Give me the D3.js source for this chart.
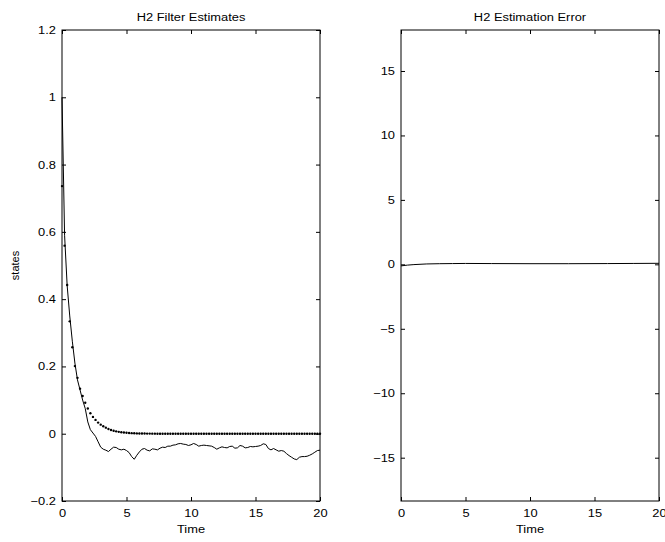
<!DOCTYPE html>
<html>
<head>
<meta charset="utf-8">
<script src="https://cdn.jsdelivr.net/npm/d3@7"></script>
<style>
body { margin: 0; background: #fff; }
text { font-family: "Liberation Sans", Arial, Helvetica, sans-serif; }
</style>
</head>
<body>
<div id="vis"></div>
<script>
// sample step of both state series (t = 0, 0.2, ... 20)
var dt = 0.2;

// solid line: filter estimate
var estimate = [
  1.000, 0.590, 0.440, 0.350, 0.275, 0.210, 0.160, 0.130, 0.100, 0.075,
  0.035, 0.012, 0.002, -0.008, -0.024, -0.040, -0.046, -0.049, -0.053, -0.046,
  -0.040, -0.041, -0.046, -0.048, -0.046, -0.050, -0.056, -0.068, -0.076, -0.064,
  -0.054, -0.046, -0.044, -0.049, -0.051, -0.045, -0.046, -0.048, -0.043, -0.040,
  -0.041, -0.037, -0.037, -0.034, -0.033, -0.030, -0.029, -0.031, -0.032, -0.035,
  -0.033, -0.029, -0.032, -0.037, -0.035, -0.034, -0.035, -0.036, -0.037, -0.041,
  -0.046, -0.042, -0.039, -0.041, -0.042, -0.038, -0.037, -0.043, -0.042, -0.035,
  -0.037, -0.042, -0.041, -0.038, -0.039, -0.038, -0.037, -0.035, -0.030, -0.032,
  -0.044, -0.048, -0.044, -0.048, -0.052, -0.050, -0.052, -0.059, -0.065, -0.070,
  -0.075, -0.077, -0.070, -0.068, -0.068, -0.067, -0.064, -0.060, -0.055, -0.050,
  -0.049
];

// dotted: true state
var state = [
  0.736, 0.559, 0.442, 0.334, 0.257, 0.201, 0.166, 0.134, 0.112, 0.092,
  0.075, 0.061, 0.050, 0.041, 0.033, 0.027, 0.022, 0.018, 0.014, 0.011,
  0.009, 0.007, 0.0055, 0.0045, 0.0035, 0.003, 0.002, 0.0017, 0.0013, 0.001,
  0.0008, 0.0006, 0.0005, 0.0004, 0.0003, 0.0002, 0.0002, 0.0001, 0.0001, 0,
  0, 0, 0, 0, 0, 0, 0, 0, 0, 0,
  0, 0, 0, 0, 0, 0, 0, 0, 0, 0,
  0, 0, 0, 0, 0, 0, 0, 0, 0, 0,
  0, 0, 0, 0, 0, 0, 0, 0, 0, 0,
  0, 0, 0, 0, 0, 0, 0, 0, 0, 0,
  0, 0, 0, 0, 0, 0, 0, 0, 0, 0,
  0
];

// estimation error (right panel)
var errTime  = [0, 0.5, 1, 2, 3, 4, 5, 7, 10, 13, 16, 18, 20];
var errValue = [-0.12, -0.06, -0.02, 0.03, 0.05, 0.06, 0.07, 0.06, 0.05, 0.05, 0.06, 0.07, 0.08];

var xTicks = [0, 5, 10, 15, 20];
var leftTicks = [-0.2, 0, 0.2, 0.4, 0.6, 0.8, 1, 1.2];
var rightTicks = [-15, -10, -5, 0, 5, 10, 15];

var width = 665, height = 542;
var stretch = 1.17;   // the reference text is a bit wide, like a resized figure

var svg = d3.select("#vis").append("svg")
    .attr("width", width)
    .attr("height", height);

// widen a text horizontally, keeping its anchor position
function widen(sel) {
    sel.each(function() {
        var t = d3.select(this);
        var x = +t.attr("x") || 0;
        t.attr("x", x / stretch).attr("transform", "scale(" + stretch + ",1)");
    });
}

function drawPanel(box, yDomain, yTicks, title, ylabel) {
    var x = d3.scaleLinear().domain([0, 20]).range([box.left, box.right]);
    var y = d3.scaleLinear().domain(yDomain).range([box.bottom, box.top]);
    var g = svg.append("g");

    var tick = 4;
    var fmt = function(d) { return d3.format("")(+d.toFixed(2)); };

    function style(sel) {
        sel.select(".domain").remove();
        sel.selectAll(".tick line").attr("stroke", "#000");
        sel.selectAll(".tick text").style("font-size", "11px").attr("fill", "#000").call(widen);
        sel.attr("font-family", null).attr("font-size", null);
    }

    g.append("g").attr("transform", "translate(0," + box.bottom + ")")
        .call(d3.axisBottom(x).tickValues(xTicks).tickSize(-tick).tickPadding(8).tickFormat(fmt))
        .call(style);
    g.append("g").attr("transform", "translate(0," + box.top + ")")
        .call(d3.axisTop(x).tickValues(xTicks).tickSize(-tick).tickFormat(""))
        .call(style);
    g.append("g").attr("transform", "translate(" + box.left + ",0)")
        .call(d3.axisLeft(y).tickValues(yTicks).tickSize(-tick).tickPadding(6).tickFormat(fmt))
        .call(style);
    g.append("g").attr("transform", "translate(" + box.right + ",0)")
        .call(d3.axisRight(y).tickValues(yTicks).tickSize(-tick).tickFormat(""))
        .call(style);

    g.append("rect")
        .attr("x", box.left).attr("y", box.top)
        .attr("width", box.right - box.left).attr("height", box.bottom - box.top)
        .attr("fill", "none").attr("stroke", "#000").attr("stroke-width", 1);

    g.append("text")
        .attr("x", (box.left + box.right) / 2).attr("y", 21)
        .attr("text-anchor", "middle").style("font-size", "11px")
        .text(title)
        .call(widen);

    g.append("text")
        .attr("x", (box.left + box.right) / 2).attr("y", 533)
        .attr("text-anchor", "middle").style("font-size", "11px")
        .text("Time")
        .call(widen);

    if (ylabel) {
        g.append("text")
            .attr("transform", "translate(19," + ((box.top + box.bottom) / 2) + ") rotate(-90)")
            .attr("text-anchor", "middle").style("font-size", "11px")
            .text(ylabel);
    }
    return { g: g, x: x, y: y };
}

var left = drawPanel({ left: 62, right: 320, top: 30, bottom: 501 },
    [-0.2, 1.2], leftTicks, "H2 Filter Estimates", "states");

var line = d3.line()
    .x(function(d, i) { return left.x(i * dt); })
    .y(function(d) { return left.y(d); });

left.g.append("path")
    .datum(estimate)
    .attr("d", line)
    .attr("fill", "none")
    .attr("stroke", "#000")
    .attr("stroke-width", 1);

left.g.selectAll("circle.dot")
    .data(state)
    .enter().append("circle")
    .attr("class", "dot")
    .attr("cx", function(d, i) { return left.x(i * dt); })
    .attr("cy", function(d) { return left.y(d); })
    .attr("r", 1.2)
    .attr("fill", "#000");

var right = drawPanel({ left: 401, right: 659, top: 30, bottom: 501 },
    [-18.36, 18.18], rightTicks, "H2 Estimation Error", null);

right.g.append("path")
    .datum(errValue)
    .attr("d", d3.line()
        .x(function(d, i) { return right.x(errTime[i]); })
        .y(function(d) { return right.y(d); }))
    .attr("fill", "none")
    .attr("stroke", "#000")
    .attr("stroke-width", 1);
</script>
</body>
</html>
